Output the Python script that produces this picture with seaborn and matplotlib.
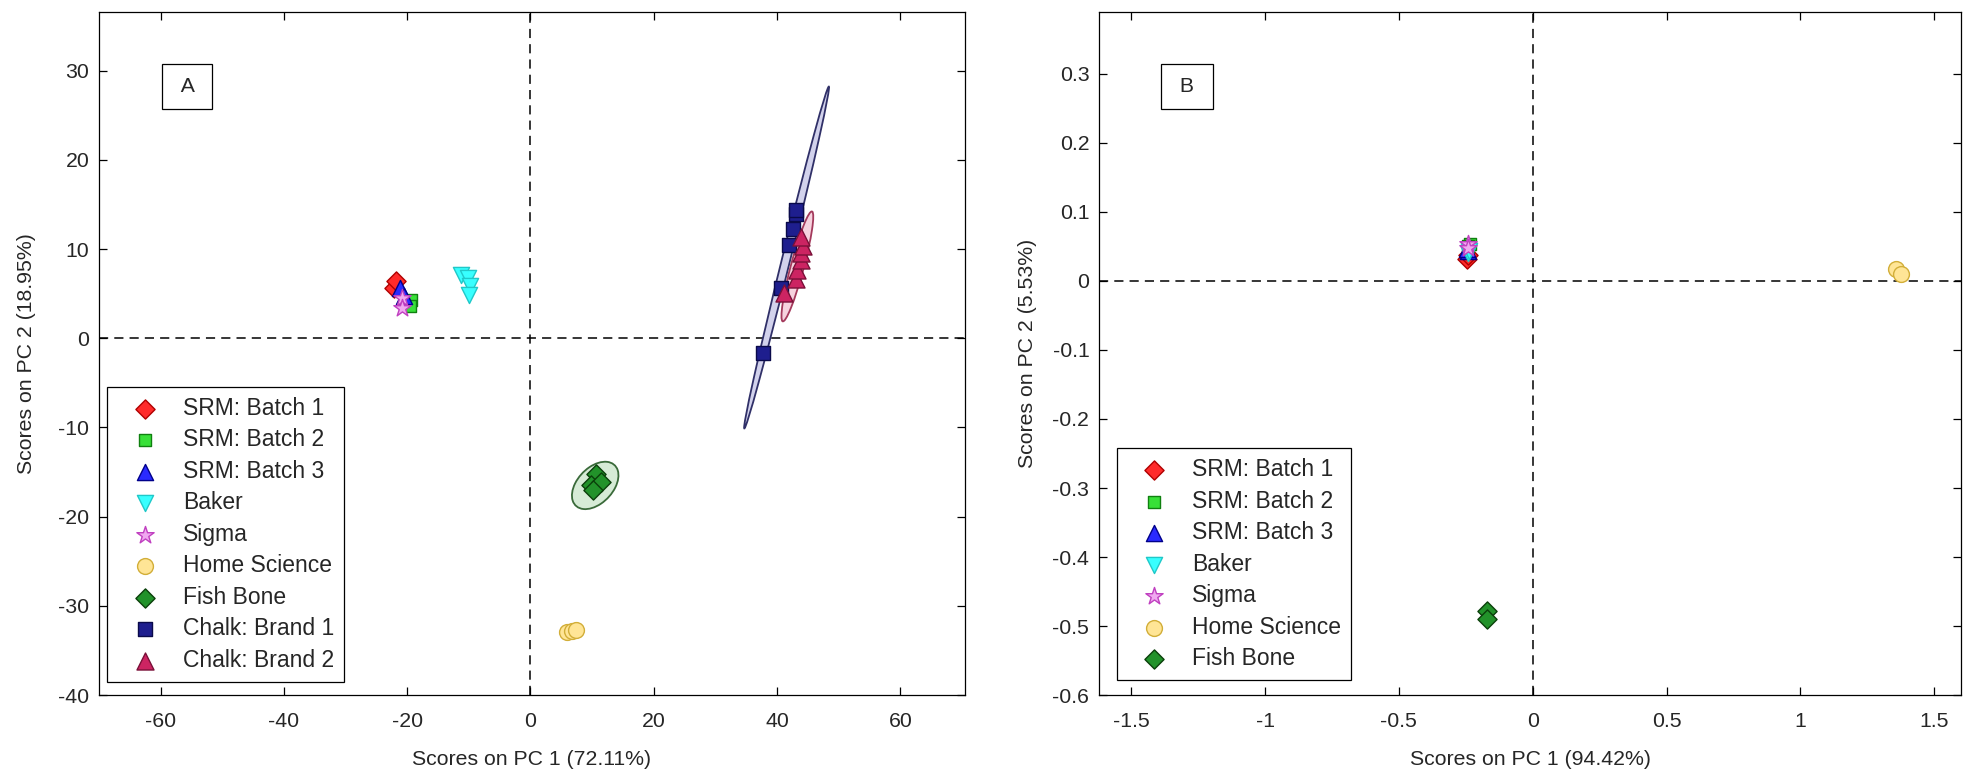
import numpy as np
import pandas as pd
import matplotlib
matplotlib.use("Agg")
import matplotlib.pyplot as plt
import seaborn as sns
from matplotlib.patches import Ellipse

sns.set_theme(style="white")
plt.rcParams['font.family'] = ['Liberation Sans', 'DejaVu Sans']

# ---------------- data: panel A ----------------
groups_a = ["SRM: Batch 1", "SRM: Batch 2", "SRM: Batch 3", "Baker", "Sigma",
            "Home Science", "Fish Bone", "Chalk: Brand 1", "Chalk: Brand 2"]
a_srm1_x = [-22.2, -21.9]
a_srm1_y = [5.6, 6.4]
a_srm2_x = [-19.4, -19.5]
a_srm2_y = [4.3, 3.6]
a_srm3_x = [-21.1, -20.5]
a_srm3_y = [5.6, 4.7]
a_baker_x = [-11.3, -10.2, -9.8, -10.0]
a_baker_y = [7.1, 6.8, 5.8, 4.9]
a_sigma_x = [-20.8, -20.8]
a_sigma_y = [4.5, 3.4]
a_home_x = [6.0, 6.8, 7.4]
a_home_y = [-32.95, -32.8, -32.7]
a_fish_x = [10.6, 9.8, 11.4, 10.1]
a_fish_y = [-15.2, -16.5, -16.1, -17.0]
a_chalk1_x = [37.7, 40.7, 42.0, 42.6, 43.1, 43.1]
a_chalk1_y = [-1.6, 5.6, 10.5, 12.2, 13.9, 14.4]
a_chalk2_x = [41.2, 43.1, 43.3, 43.9, 43.9, 44.2, 43.9]
a_chalk2_y = [5.1, 6.6, 7.6, 8.8, 9.6, 10.3, 11.4]

# confidence ellipses (center x, center y, full major, full minor, angle deg)
ell_groups = ["Fish Bone", "Chalk: Brand 1", "Chalk: Brand 2"]
ell_cx = [10.5, 41.55, 43.3]
ell_cy = [-16.5, 9.05, 8.05]
ell_major = [8.06, 40.7, 13.2]
ell_minor = [4.5, 1.3, 2.05]
ell_angle = [25.0, 70.3, 68.7]

# ---------------- data: panel B ----------------
groups_b = groups_a[:7]
b_srm1_x = [-0.245, -0.24]
b_srm1_y = [0.032, 0.038]
b_srm2_x = [-0.235, -0.24]
b_srm2_y = [0.054, 0.05]
b_srm3_x = [-0.24, -0.245]
b_srm3_y = [0.043, 0.046]
b_baker_x = [-0.24, -0.238]
b_baker_y = [0.04, 0.044]
b_sigma_x = [-0.24, -0.242]
b_sigma_y = [0.054, 0.048]
b_home_x = [1.357, 1.376]
b_home_y = [0.017, 0.010]
b_fish_x = [-0.172, -0.169]
b_fish_y = [-0.478, -0.49]

# ---------------- styles ----------------
style = {
    "SRM: Batch 1": dict(marker="D", fc="#ff2a2a", ec="#b00000", s=95),
    "SRM: Batch 2": dict(marker="s", fc="#38e038", ec="#108010", s=85),
    "SRM: Batch 3": dict(marker="^", fc="#2a2aff", ec="#00008a", s=135),
    "Baker": dict(marker="v", fc="#38ffff", ec="#20c8c8", s=135),
    "Sigma": dict(marker="*", fc="#f0a8f0", ec="#c040c0", s=170),
    "Home Science": dict(marker="o", fc="#ffe596", ec="#d2ae38", s=130),
    "Fish Bone": dict(marker="D", fc="#22922a", ec="#0a400a", s=95),
    "Chalk: Brand 1": dict(marker="s", fc="#1e1e8e", ec="#0a0a4a", s=110),
    "Chalk: Brand 2": dict(marker="^", fc="#cc2462", ec="#7a1038", s=150),
}
ell_style = {
    "Fish Bone": dict(fc="#d6ebd6", ec="#3a6a3a"),
    "Chalk: Brand 1": dict(fc="#d2d2ec", ec="#303068"),
    "Chalk: Brand 2": dict(fc="#f6d2de", ec="#a43a5c"),
}

def frame(xs_list, ys_list, groups):
    rows = []
    for g, xs, ys in zip(groups, xs_list, ys_list):
        for x, y in zip(xs, ys):
            rows.append((g, x, y))
    return pd.DataFrame(rows, columns=["group", "x", "y"])

df_a = frame([a_srm1_x, a_srm2_x, a_srm3_x, a_baker_x, a_sigma_x, a_home_x, a_fish_x, a_chalk1_x, a_chalk2_x],
             [a_srm1_y, a_srm2_y, a_srm3_y, a_baker_y, a_sigma_y, a_home_y, a_fish_y, a_chalk1_y, a_chalk2_y],
             groups_a)
df_b = frame([b_srm1_x, b_srm2_x, b_srm3_x, b_baker_x, b_sigma_x, b_home_x, b_fish_x],
             [b_srm1_y, b_srm2_y, b_srm3_y, b_baker_y, b_sigma_y, b_home_y, b_fish_y],
             groups_b)

fig = plt.figure(figsize=(19.65, 7.81), dpi=100)
axA = fig.add_axes([0.0504, 0.110, 0.4407, 0.875])
axB = fig.add_axes([0.5593, 0.110, 0.4387, 0.875])

FS = 15.3
LFS = 16.5

def draw(ax, df, groups, ellipses, leg_anchor):
    if ellipses:
        for g, cx, cy, w, h, ang in zip(ell_groups, ell_cx, ell_cy, ell_major, ell_minor, ell_angle):
            st = ell_style[g]
            ax.add_patch(Ellipse((cx, cy), w, h, angle=ang, facecolor=st["fc"],
                                 edgecolor=st["ec"], linewidth=1.3, zorder=1))
    for g in groups:
        st = style[g]
        sub = df[df.group == g]
        sns.scatterplot(data=sub, x="x", y="y", ax=ax, marker=st["marker"], s=st["s"],
                        color=st["fc"], edgecolor=st["ec"], linewidth=1.0, label=g,
                        zorder=3, legend=True)
    ax.axhline(0, color="black", ls=(0, (6, 4)), lw=1.1, zorder=0)
    ax.axvline(0, color="black", ls=(0, (6, 4)), lw=1.1, zorder=0)
    for sp in ax.spines.values():
        sp.set_color("black")
        sp.set_linewidth(0.9)
    ax.tick_params(direction="in", length=6, width=0.9, color="black", labelsize=FS,
                   top=True, right=True, bottom=True, left=True)
    ax.tick_params(axis="x", pad=12)
    ax.tick_params(axis="y", pad=7)
    leg = ax.legend(loc="lower left", bbox_to_anchor=leg_anchor, fontsize=LFS, frameon=True,
                    fancybox=False, edgecolor="black", framealpha=1, borderaxespad=0,
                    labelspacing=0.37, handletextpad=0.45, borderpad=0.45, handlelength=2.4)
    leg.get_frame().set_linewidth(0.9)

draw(axA, df_a, groups_a, True, (0.0092, 0.019))
axA.set_xlim(-70, 70.5)
axA.set_ylim(-40, 36.6)
axA.set_xticks(np.arange(-60, 61, 20))
axA.set_yticks(np.arange(-40, 31, 10))
axA.set_xticklabels([str(int(v)) for v in np.arange(-60, 61, 20)])
axA.set_yticklabels([str(int(v)) for v in np.arange(-40, 31, 10)])
axA.set_xlabel("Scores on PC 1 (72.11%)", fontsize=FS, labelpad=14)
axA.set_ylabel("Scores on PC 2 (18.95%)", fontsize=FS, labelpad=16)
axA.text(0.102, 0.891, " A ", transform=axA.transAxes, fontsize=FS, ha="center", va="center",
         bbox=dict(boxstyle="square,pad=0.62", facecolor="white", edgecolor="black", linewidth=0.9))

draw(axB, df_b, groups_b, False, (0.0203, 0.0214))
axB.set_xlim(-1.62, 1.60)
axB.set_ylim(-0.6, 0.39)
axB.set_xticks([-1.5, -1, -0.5, 0, 0.5, 1, 1.5])
axB.set_xticklabels(["-1.5", "-1", "-0.5", "0", "0.5", "1", "1.5"])
axB.set_yticks(np.round(np.arange(-0.6, 0.31, 0.1), 1))
axB.set_yticklabels(["-0.6", "-0.5", "-0.4", "-0.3", "-0.2", "-0.1", "0", "0.1", "0.2", "0.3"])
axB.set_xlabel("Scores on PC 1 (94.42%)", fontsize=FS, labelpad=14)
axB.set_ylabel("Scores on PC 2 (5.53%)", fontsize=FS, labelpad=11)
axB.text(0.102, 0.891, " B ", transform=axB.transAxes, fontsize=FS, ha="center", va="center",
         bbox=dict(boxstyle="square,pad=0.62", facecolor="white", edgecolor="black", linewidth=0.9))

fig.savefig("out.png", dpi=100)
